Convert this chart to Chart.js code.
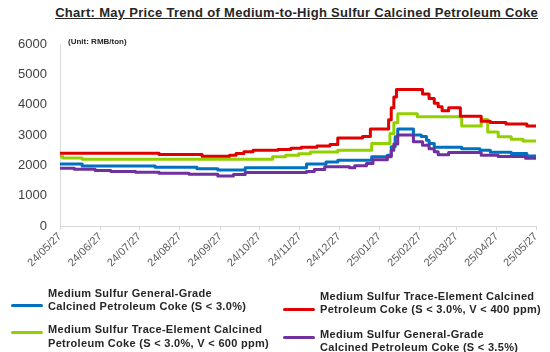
<!DOCTYPE html>
<html>
<head>
<meta charset="utf-8">
<script src="https://cdn.jsdelivr.net/npm/chart.js"></script>
<style>
  html, body { margin: 0; padding: 0; background: #ffffff; }
  body { width: 550px; height: 352px; position: relative; overflow: hidden;
         font-family: "Liberation Sans", Arial, sans-serif; }
  #title { position: absolute; right: 12px; top: 5px; font-weight: bold; font-size: 13px;
           letter-spacing: 0.3px; text-decoration: underline; color: #262626; white-space: nowrap; }
  #unit { position: absolute; left: 68px; top: 37px; font-weight: bold; font-size: 8px;
          color: #262626; white-space: nowrap; }
  #wrap { position: absolute; left: 0; top: 0; width: 550px; height: 290px; }
  .legtext { position: absolute; font-weight: bold; font-size: 11px; letter-spacing: 0.3px;
             line-height: 13.2px; color: #262626; white-space: pre; }
  .legsw { position: absolute; width: 32px; height: 3px; border-radius: 1.5px; }
</style>
</head>
<body>
<div id="title">Chart: May Price Trend of Medium-to-High Sulfur Calcined Petroleum Coke</div>
<div id="wrap"><canvas id="c" width="550" height="290"></canvas></div>
<div id="unit">(Unit: RMB/ton)</div>
<div id="legend"></div>
<script>
// ---------------- DATA ----------------
const startDate = '2024-05-27';
const endDate = '2025-05-27';
const xTickDates = ['2024-05-27','2024-06-27','2024-07-27','2024-08-27','2024-09-27','2024-10-27',
  '2024-11-27','2024-12-27','2025-01-27','2025-02-27','2025-03-27','2025-04-27','2025-05-27'];
const xTickLabels = ['24/05/27','24/06/27','24/07/27','24/08/27','24/09/27','24/10/27',
  '24/11/27','24/12/27','25/01/27','25/02/27','25/03/27','25/04/27','25/05/27'];
const yTicks = [0, 1000, 2000, 3000, 4000, 5000, 6000];
const yTickLabels = ['0', '1000', '2000', '3000', '4000', '5000', '6000'];

const seriesNames = [
  'Medium Sulfur General-Grade\nCalcined Petroleum Coke (S < 3.0%)',
  'Medium Sulfur Trace-Element Calcined\nPetroleum Coke (S < 3.0%, V < 400 ppm)',
  'Medium Sulfur Trace-Element Calcined\nPetroleum Coke (S < 3.0%, V < 600 ppm)',
  'Medium Sulfur General-Grade\nCalcined Petroleum Coke (S < 3.5%)'
];

// price change dates and the price from that date on (RMB/ton)
const blueDates = ['2024-05-27','2024-06-13','2024-08-08','2024-09-09','2024-09-25','2024-10-16',
  '2024-12-02','2024-12-17','2024-12-26','2025-01-21','2025-02-02','2025-02-05','2025-02-08',
  '2025-02-10','2025-02-22','2025-02-28','2025-03-04','2025-03-06','2025-03-10','2025-03-31',
  '2025-04-14','2025-04-22','2025-05-08','2025-05-20','2025-05-27'];
const blueValues = [2040,1980,1940,1890,1850,1920,
  2040,2110,2170,2280,2330,2610,2940,
  3200,3000,2950,2830,2720,2600,2550,
  2500,2430,2390,2310,2310];

const redDates = ['2024-05-27','2024-08-11','2024-09-13','2024-10-04','2024-10-09','2024-10-15',
  '2024-10-22','2024-11-10','2024-11-20','2024-11-28','2024-12-10','2024-12-20','2024-12-26',
  '2025-01-14','2025-01-20','2025-02-03','2025-02-05','2025-02-07','2025-02-09','2025-03-01',
  '2025-03-06','2025-03-10','2025-03-13','2025-03-16','2025-03-21','2025-03-30','2025-04-15',
  '2025-04-22','2025-05-04','2025-05-20','2025-05-27'];
const redValues = [2400,2360,2300,2330,2390,2450,
  2500,2520,2560,2600,2640,2690,2900,
  2950,3200,3500,3900,4250,4500,4350,
  4200,4050,3930,3800,3900,3620,3450,
  3410,3360,3300,3300];

const greenDates = ['2024-05-27','2024-05-29','2024-06-13','2024-11-06','2024-11-16','2024-11-26',
  '2024-12-05','2024-12-26','2025-01-21','2025-02-04','2025-02-07','2025-02-10','2025-02-25',
  '2025-03-31','2025-04-15','2025-04-20','2025-04-28','2025-05-08','2025-05-17','2025-05-27'];
const greenValues = [2290,2240,2200,2280,2330,2380,
  2440,2500,2720,3050,3400,3700,3600,
  3300,3510,3100,2940,2860,2800,2800];

const purpleDates = ['2024-05-27','2024-06-07','2024-06-23','2024-07-05','2024-07-24','2024-08-11',
  '2024-09-03','2024-09-25','2024-10-07','2024-10-16','2024-12-02','2024-12-08','2024-12-16',
  '2025-01-04','2025-01-08','2025-01-17','2025-01-22','2025-02-02','2025-02-05','2025-02-07',
  '2025-02-10','2025-02-22','2025-03-01','2025-03-06','2025-03-10','2025-03-13','2025-03-21',
  '2025-04-15','2025-04-28','2025-05-19','2025-05-27'];
const purpleValues = [1900,1870,1830,1800,1770,1740,
  1710,1650,1700,1760,1800,1860,1950,
  1920,1990,2060,2180,2280,2500,2700,
  3000,2780,2660,2550,2450,2350,2420,
  2330,2290,2230,2230];

const seriesColors = ['#0070C0', '#E00000', '#92D000', '#7030A0'];

// ---------------- BUILD ----------------
const DAY = 86400000;
function dayIndex(s) { return (Date.parse(s + 'T00:00:00Z') - Date.parse(startDate + 'T00:00:00Z')) / DAY; }
function toPoints(dates, values) { return dates.map((d, i) => ({ x: dayIndex(d), y: values[i] })); }

const seriesData = [
  toPoints(blueDates, blueValues),
  toPoints(redDates, redValues),
  toPoints(greenDates, greenValues),
  toPoints(purpleDates, purpleValues)
];

const drawOrder = [2, 0, 3, 1];
const datasets = seriesData.map((pts, i) => ({
  label: seriesNames[i],
  data: pts,
  borderColor: seriesColors[i],
  backgroundColor: seriesColors[i],
  borderWidth: 3,
  pointRadius: 0,
  stepped: true,
  fill: false,
  borderJoinStyle: 'round',
  borderCapStyle: 'round',
  order: drawOrder[i]
}));

new Chart(document.getElementById('c'), {
  type: 'line',
  data: { datasets },
  options: {
    responsive: false,
    animation: false,
    events: [],
    layout: { padding: { left: 0, top: 44, right: 14, bottom: 0 } },
    plugins: { legend: { display: false }, title: { display: false }, tooltip: { enabled: false } },
    scales: {
      x: {
        type: 'linear',
        min: dayIndex(startDate),
        max: dayIndex(endDate),
        afterBuildTicks: (scale) => { scale.ticks = xTickDates.map(d => ({ value: dayIndex(d) })); },
        afterFit: (scale) => { scale.height = 64; },
        grid: { display: true, drawOnChartArea: false, drawTicks: true, tickLength: 4, color: '#d9d9d9' },
        border: { display: true, color: '#d9d9d9', width: 1 },
        ticks: {
          autoSkip: false,
          maxRotation: 45,
          minRotation: 45,
          padding: 0,
          color: '#595959',
          font: { family: '"Liberation Sans", Arial, sans-serif', size: 11 },
          callback: (value, index) => xTickLabels[index]
        }
      },
      y: {
        min: 0,
        max: 6000,
        afterBuildTicks: (scale) => { scale.ticks = yTicks.map(v => ({ value: v })); },
        afterFit: (scale) => { scale.width = 60; },
        grid: { display: false, drawTicks: false },
        border: { display: true, color: '#d9d9d9', width: 1 },
        ticks: {
          padding: 13,
          color: '#404040',
          font: { family: '"Liberation Sans", Arial, sans-serif', size: 13 },
          callback: (value, index) => yTickLabels[index]
        }
      }
    }
  }
});

// ---------------- LEGEND (HTML text) ----------------
const legendLayout = [
  { sx: 11,  sy: 305.7, tx: 48,  ty: 286.8 },
  { sx: 283, sy: 309.0, tx: 320, ty: 289.6 },
  { sx: 11,  sy: 332.7, tx: 48,  ty: 323.4 },
  { sx: 283, sy: 337.0, tx: 320, ty: 327.8 }
];
const legend = document.getElementById('legend');
seriesNames.forEach((name, i) => {
  const L = legendLayout[i];
  const sw = document.createElement('div');
  sw.className = 'legsw';
  sw.style.left = L.sx + 'px';
  sw.style.top = (L.sy - 1.5) + 'px';
  sw.style.background = seriesColors[i];
  legend.appendChild(sw);
  const t = document.createElement('div');
  t.className = 'legtext';
  t.style.left = L.tx + 'px';
  t.style.top = L.ty + 'px';
  t.textContent = name;
  legend.appendChild(t);
});
</script>
</body>
</html>
